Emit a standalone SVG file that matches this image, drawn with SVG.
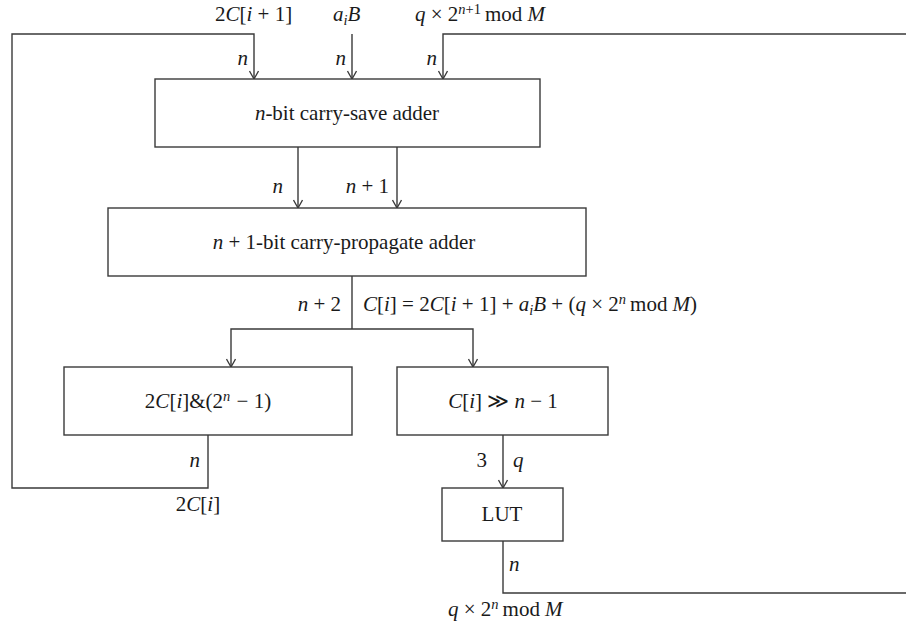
<svg xmlns="http://www.w3.org/2000/svg" width="906" height="634" viewBox="0 0 906 634">
<defs>
<marker id="arr" viewBox="0 0 10 10" refX="9" refY="5" markerWidth="10" markerHeight="10" markerUnits="userSpaceOnUse" orient="auto">
<path d="M1,0.5 L9,5 L1,9.5" fill="none" stroke="#3a3a3a" stroke-width="1.3"/>
</marker>
<style>
.box{fill:#fff;stroke:#3a3a3a;stroke-width:1.4}
.ln{fill:none;stroke:#3a3a3a;stroke-width:1.4}
.a{marker-end:url(#arr)}
.t{font-size:21px;fill:#1a1a1a}
.it{font-style:italic}
.sup{font-size:14.5px}
.sub{font-size:14.5px}
.m{text-anchor:middle}
.e{text-anchor:end}
</style>
</defs>

<g id="connectors">
<path class="ln a" d="M208,435 V488 H12 V34 H254 V79"/>
<path class="ln a" d="M352,34 V79"/>
<path class="ln a" d="M503,541 V593 H910 V34 H443 V79"/>
<path class="ln a" d="M298,147 V208"/>
<path class="ln a" d="M397,147 V208"/>
<path class="ln" d="M352,276 V329"/>
<path class="ln a" d="M352,329 H231 V367"/>
<path class="ln a" d="M352,329 H473 V367"/>
<path class="ln a" d="M503,435 V488"/>
</g>

<g font-family="Liberation Serif, Times New Roman, serif">
<g id="csa">
<rect class="box" x="155" y="79" width="385" height="68"/>
<text class="t m" x="347" y="120"><tspan class="it">n</tspan>-bit carry-save adder</text>
</g>

<g id="cpa">
<rect class="box" x="108" y="208" width="478" height="68"/>
<text class="t m" x="344" y="249"><tspan class="it">n</tspan> + 1-bit carry-propagate adder</text>
</g>

<g id="mask">
<rect class="box" x="64" y="367" width="288" height="68"/>
<text class="t m" x="208" y="408">2<tspan class="it">C</tspan>[<tspan class="it">i</tspan>]&amp;(2<tspan class="sup it" dy="-7">n</tspan><tspan dy="7" dx="1"> − 1)</tspan></text>
</g>

<g id="shift">
<rect class="box" x="397" y="367" width="211" height="68"/>
<text class="t m" x="503" y="408"><tspan class="it">C</tspan>[<tspan class="it">i</tspan>] ≫ <tspan class="it">n</tspan> − 1</text>
</g>

<g id="lut">
<rect class="box" x="442" y="488" width="121" height="53"/>
<text class="t m" x="502" y="521">LUT</text>
</g>

<g id="labels">
<text class="t" x="215" y="21">2<tspan class="it">C</tspan>[<tspan class="it">i</tspan> + 1]</text>
<text class="t" x="333" y="21"><tspan class="it">a</tspan><tspan class="sub it" dy="4">i</tspan><tspan class="it" dy="-4">B</tspan></text>
<text class="t" x="415" y="21"><tspan class="it">q</tspan> × 2<tspan class="sup" dy="-7"><tspan class="it">n</tspan>+1</tspan><tspan dy="7" dx="4">mod</tspan><tspan class="it" dx="5">M</tspan></text>

<text class="t e it" x="248" y="65">n</text>
<text class="t e it" x="346" y="65">n</text>
<text class="t e it" x="437" y="65">n</text>

<text class="t e it" x="283" y="193">n</text>
<text class="t e" x="389" y="193"><tspan class="it">n</tspan> + 1</text>

<text class="t e" x="341" y="311"><tspan class="it">n</tspan> + 2</text>
<text class="t" x="363" y="311"><tspan class="it">C</tspan>[<tspan class="it">i</tspan>] = 2<tspan class="it">C</tspan>[<tspan class="it">i</tspan> + 1] + <tspan class="it">a</tspan><tspan class="sub it" dy="4">i</tspan><tspan class="it" dy="-4">B</tspan> + (<tspan class="it">q</tspan> × 2<tspan class="sup it" dy="-7">n</tspan><tspan dy="7" dx="4">mod</tspan><tspan class="it" dx="5">M</tspan>)</text>

<text class="t e it" x="200" y="467">n</text>
<text class="t m" x="198" y="511">2<tspan class="it">C</tspan>[<tspan class="it">i</tspan>]</text>

<text class="t e" x="487" y="467">3</text>
<text class="t it" x="513" y="467">q</text>

<text class="t it" x="509" y="571">n</text>
<text class="t" x="448" y="616"><tspan class="it">q</tspan> × 2<tspan class="sup it" dy="-7">n</tspan><tspan dy="7" dx="4">mod</tspan><tspan class="it" dx="5">M</tspan></text>
</g>
</g>
</svg>
